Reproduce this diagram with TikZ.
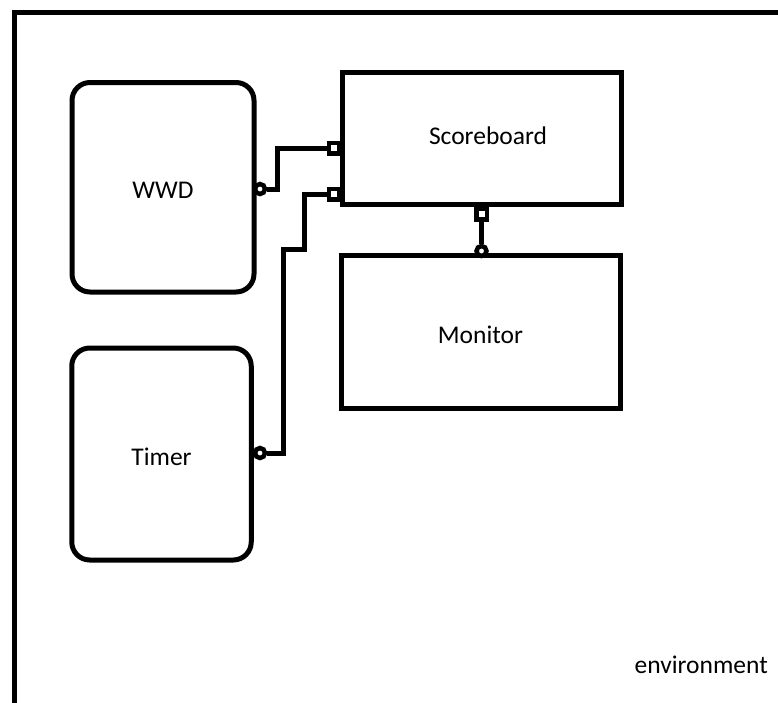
\documentclass[tikz,border=0pt]{standalone}
\usepackage{fontspec}
\setmainfont{Carlito}
\begin{document}
\begin{tikzpicture}[x=1pt,y=-1pt,
  wire/.style={line width=5pt},
  block/.style={draw, line width=5pt, inner sep=0pt, text height=23pt, text depth=0pt,
    font=\fontsize{25.5}{30}\selectfont},
  roundblock/.style={block, rounded corners=18pt},
  port/.style={draw, line width=4.5pt, fill=white, minimum size=10.5pt, inner sep=0pt},
  socket/.style={draw, circle, line width=4.5pt, fill=white, minimum size=10pt, inner sep=0pt},
  label/.style={font=\fontsize{25.5}{30}\selectfont, inner sep=0pt}]

\useasboundingbox (0,0) rectangle (778,702);

% environment frame, running off the right and bottom edges
\begin{scope}
  \clip (0,0) rectangle (778,702);
  \draw[line width=5pt] (14.5,12.5) rectangle (820,740);
\end{scope}
\node[label, anchor=base east] (env) at (768,673) {environment};

% components
\node[roundblock, minimum width=182pt, minimum height=209.5pt] (wwd) at (163,187.25) {WWD};
\node[roundblock, minimum width=179.5pt, minimum height=212pt] (timer) at (161.5,454) {Timer};
\node[block, minimum width=279pt, minimum height=132.5pt] (score) at (481.5,138.25) {};
\node[label] (scoretext) at (488,136) {Scoreboard};
\node[block, minimum width=279pt, minimum height=152.5pt] (monitor) at (480.5,331.75) {Monitor};

% wire bends
\coordinate (j1) at (277.5,148);
\coordinate (j2) at (283.5,249.5);
\coordinate (j3) at (304,194);

% provided / required interface ends
\node[port] (sbA) at (334,148) {};
\node[port] (sbB) at (334,194) {};
\node[port] (sbC) at (481.5,214) {};
\node[socket] (wwdS) at (260,189) {};
\node[socket] (timS) at (260,453) {};
\node[socket] (monS) at (481.5,251) {};

% connectors
\draw[wire] (wwdS.east) -| (j1) -- (sbA.west);
\draw[wire] (timS.east) -| (j2) -| (j3) -- (sbB.west);
\draw[wire] (sbC.south) -- (monS.north);
\end{tikzpicture}
\end{document}
